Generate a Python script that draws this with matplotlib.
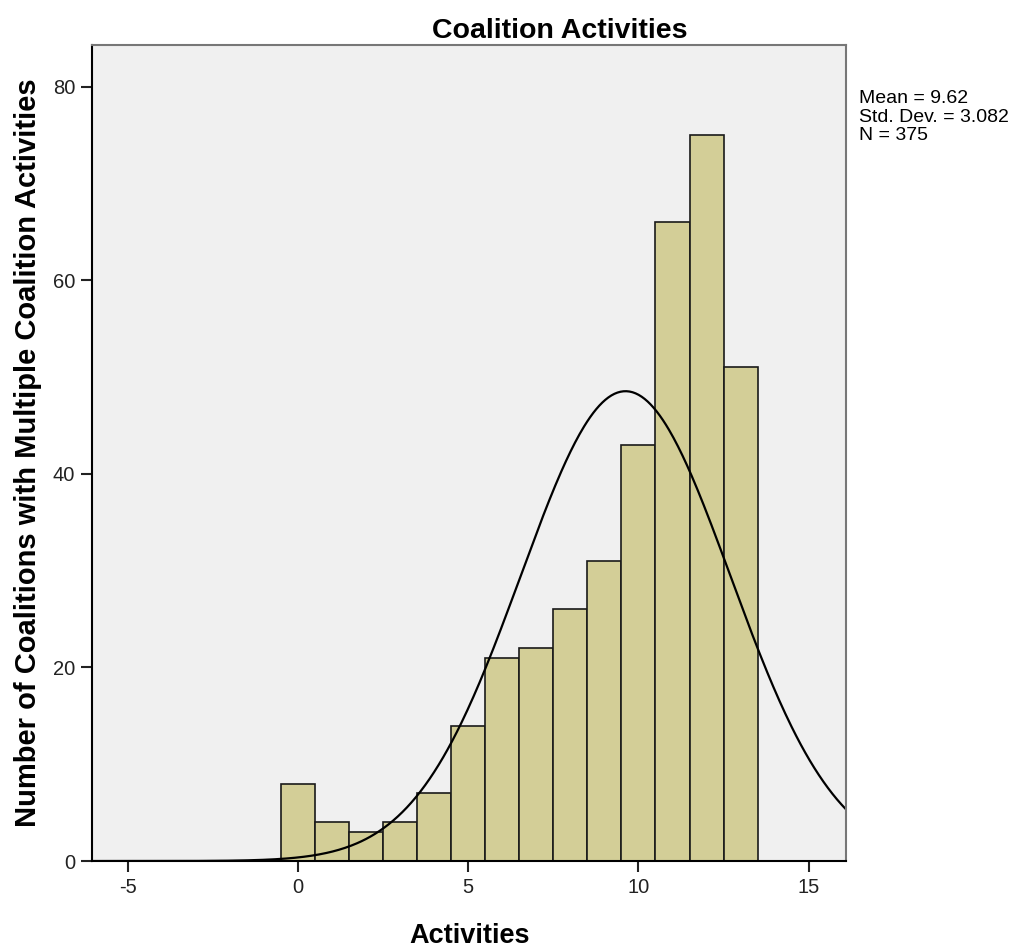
import matplotlib.pyplot as plt
import numpy as np

plt.rcParams['font.family'] = ['Liberation Sans', 'DejaVu Sans']
plt.rcParams['axes.unicode_minus'] = False

# histogram bins (centres) and counts
activities = [0, 1, 2, 3, 4, 5, 6, 7, 8, 9, 10, 11, 12, 13]
counts = [8, 4, 3, 4, 7, 14, 21, 22, 26, 31, 43, 66, 75, 51]
mean = 9.62
std = 3.082
n = 375

fig = plt.figure(figsize=(10.17, 9.51), dpi=100)
ax = fig.add_axes([0.0905, 0.0946, 0.7415, 0.858])
ax.set_facecolor('#f0f0f0')

ax.bar(activities, counts, width=1.0, color='#d3ce97', edgecolor='#1a1a1a', linewidth=1.2)

# normal curve scaled to counts (bin width 1)
xs = np.linspace(-6.1, 16.1, 500)
ys = n / (std * np.sqrt(2 * np.pi)) * np.exp(-0.5 * ((xs - mean) / std) ** 2)
ax.plot(xs, ys, color='black', linewidth=1.6)

ax.set_xlim(-6.05, 16.1)
ax.set_ylim(0, 84.3)
ax.set_xticks([-5, 0, 5, 10, 15])
ax.set_yticks([0, 20, 40, 60, 80])
ax.tick_params(labelsize=14.5, length=8, width=1.5, colors='#222222', pad=4)

for side in ['left', 'bottom']:
    ax.spines[side].set_linewidth(1.5)
for side in ['top', 'right']:
    ax.spines[side].set_color('#777777')
    ax.spines[side].set_linewidth(1.5)

ax.set_title('Coalition Activities', fontsize=20.5, fontweight='bold', pad=5, x=0.62)
ax.set_xlabel('Activities', fontsize=19.5, fontweight='bold', labelpad=19)
ax.set_ylabel('Number of Coalitions with Multiple Coalition Activities',
              fontsize=21, fontweight='bold', labelpad=8)

fig.text(0.845, 0.905, 'Mean = %.2f\nStd. Dev. = %.3f\nN = %d' % (mean, std, n),
         fontsize=14, va='top', ha='left', linespacing=1.1)

fig.savefig('out.png', dpi=100)
